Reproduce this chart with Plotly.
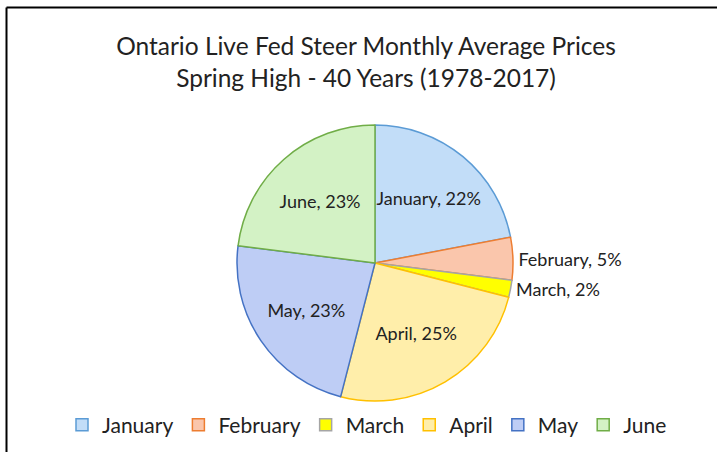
import plotly.graph_objects as go

months = ["January", "February", "March", "April", "May", "June"]
shares = [22, 5, 2, 25, 23, 23]
fill_colors = ["#C2DDF8", "#FAC6AC", "#FFFF00", "#FFEEAA", "#BECDF5", "#D3F2C5"]
line_colors = ["#5B9BD5", "#ED7D31", "#A5A5A5", "#FFC000", "#4472C4", "#70AD47"]
positions = ["inside", "outside", "outside", "inside", "inside", "inside"]

title_lines = ["Ontario Live Fed Steer Monthly Average Prices",
               "Spring High - 40 Years (1978-2017)"]

W, H = 717, 452
cx, cy, r = 375, 263, 138

fig = go.Figure(go.Pie(
    labels=months,
    values=shares,
    sort=False,
    direction="clockwise",
    rotation=0,
    marker=dict(colors=fill_colors, line=dict(color=line_colors, width=1.5)),
    texttemplate="%{label}, %{percent:.0%}",
    textposition=positions,
    insidetextorientation="horizontal",
    textfont=dict(family="Lato", size=18, color="#222222"),
    domain=dict(x=[(cx - r) / W, (cx + r) / W], y=[(H - cy - r) / H, (H - cy + r) / H]),
    hoverinfo="label+percent",
))

fig.update_layout(
    width=W, height=H,
    margin=dict(l=0, r=0, t=0, b=0),
    paper_bgcolor="white",
    font=dict(family="Lato", color="#222222"),
    title=dict(text="<br>".join(title_lines), x=366 / W, xanchor="center",
               y=1 - 55 / H, yanchor="middle",
               font=dict(family="Lato", size=24.5, color="#222222")),
    legend=dict(orientation="h", x=367 / W, xanchor="center", y=1 - 425 / H, yanchor="middle",
                font=dict(family="Lato", size=21, color="#222222"),
                itemwidth=30, traceorder="normal"),
    shapes=[
        dict(type="line", xref="paper", yref="paper", x0=6.5 / W, x1=1, y0=1 - 7.5 / H, y1=1 - 7.5 / H,
             line=dict(color="black", width=2)),
        dict(type="line", xref="paper", yref="paper", x0=6.5 / W, x1=6.5 / W, y0=0, y1=1 - 7.5 / H,
             line=dict(color="black", width=2)),
    ],
)

fig.write_html("out.html", config={"displayModeBar": False},
               post_script="document.body.style.margin='0';document.body.style.overflow='hidden';")
